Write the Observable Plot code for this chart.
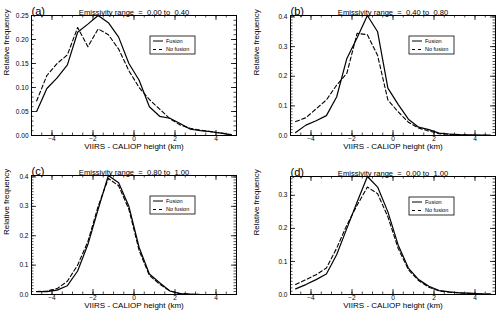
<!DOCTYPE html>
<html>
<head>
<meta charset="utf-8">
<script src="https://cdn.jsdelivr.net/npm/d3@7"></script>
<script src="https://cdn.jsdelivr.net/npm/@observablehq/plot@0.6"></script>
<style>
  html, body { margin: 0; padding: 0; background: white; }
  #grid { display: grid; grid-template-columns: 250px 250px; width: 500px; height: 314px; }
  #grid svg { display: block; }
</style>
</head>
<body>
<div id="grid"></div>
<script>
// ---- data ----
const xBins = [-4.75, -4.25, -3.75, -3.25, -2.75, -2.25, -1.75, -1.25, -0.75, -0.25,
               0.25, 0.75, 1.25, 1.75, 2.25, 2.75, 3.25, 3.75, 4.25, 4.75];

const fusionA   = [0.050, 0.098, 0.120, 0.147, 0.215, 0.232, 0.250, 0.235, 0.205, 0.150,
                   0.115, 0.060, 0.040, 0.036, 0.025, 0.013, 0.010, 0.008, 0.005, 0.001];
const noFusionA = [0.072, 0.125, 0.150, 0.168, 0.225, 0.185, 0.222, 0.210, 0.180, 0.135,
                   0.100, 0.075, 0.055, 0.035, 0.022, 0.015, 0.011, 0.008, 0.005, 0.002];

const fusionB   = [0.010, 0.035, 0.050, 0.067, 0.130, 0.260, 0.330, 0.405, 0.350, 0.160,
                   0.105, 0.055, 0.028, 0.020, 0.008, 0.005, 0.003, 0.002, 0.001, 0.001];
const noFusionB = [0.047, 0.060, 0.090, 0.120, 0.170, 0.210, 0.345, 0.340, 0.270, 0.120,
                   0.080, 0.045, 0.025, 0.015, 0.006, 0.004, 0.002, 0.001, 0.001, 0.000];

const fusionC   = [0.010, 0.010, 0.015, 0.030, 0.080, 0.170, 0.290, 0.405, 0.380, 0.300,
                   0.160, 0.070, 0.040, 0.012, 0.003, 0.001, 0.000, 0.000, 0.000, 0.000];
const noFusionC = [0.010, 0.012, 0.020, 0.045, 0.100, 0.180, 0.300, 0.395, 0.370, 0.290,
                   0.150, 0.065, 0.035, 0.012, 0.003, 0.001, 0.000, 0.000, 0.000, 0.000];

const fusionD   = [0.017, 0.030, 0.045, 0.062, 0.120, 0.200, 0.280, 0.357, 0.325, 0.250,
                   0.150, 0.080, 0.045, 0.025, 0.012, 0.008, 0.005, 0.004, 0.002, 0.001];
const noFusionD = [0.030, 0.045, 0.060, 0.080, 0.140, 0.210, 0.270, 0.325, 0.305, 0.235,
                   0.140, 0.075, 0.042, 0.022, 0.011, 0.007, 0.005, 0.003, 0.002, 0.001];

const panelLetters = ["(a)", "(b)", "(c)", "(d)"];
const panelTitles = ["Emissivity range  =  0.00 to  0.40", "Emissivity range  =  0.40 to  0.80",
                     "Emissivity range  =  0.80 to  1.00", "Emissivity range  =  0.00 to  1.00"];
const seriesNames = ["Fusion", "No fusion"];

const xMajorTicks = [-4, -2, 0, 2, 4];
const xMinorTicks = d3.range(-5, 5.001, 0.5);
const yTicksA = [0, 0.05, 0.10, 0.15, 0.20, 0.25];
const yTicksB = [0, 0.1, 0.2, 0.3, 0.4];
const yTicksD = [0, 0.1, 0.2, 0.3];
const yMinorStep = 0.01;

const xLabel = "VIIRS - CALIOP height (km)";
const yLabel = "Relative frequency";

// ---- layout ----
const panels = [
  {fusion: fusionA, noFusion: noFusionA, yTicks: yTicksA, fmt: ".2f", m: {top: 15, right: 14, bottom: 22, left: 31}},
  {fusion: fusionB, noFusion: noFusionB, yTicks: yTicksB, fmt: ".1f", m: {top: 15, right: 5, bottom: 22, left: 40}},
  {fusion: fusionC, noFusion: noFusionC, yTicks: yTicksB, fmt: ".1f", m: {top: 18, right: 14, bottom: 20, left: 31}},
  {fusion: fusionD, noFusion: noFusionD, yTicks: yTicksD, fmt: ".1f", m: {top: 19, right: 5, bottom: 20, left: 40}}
];

const W = 250, H = 157;
const FONT = "Liberation Sans";
const grid = document.getElementById("grid");

panels.forEach((p, i) => {
  const m = p.m;
  const iw = W - m.left - m.right, ih = H - m.top - m.bottom;
  const yMax = d3.max([...p.fusion, ...p.noFusion]);
  const yMinor = d3.range(0, yMax + 1e-9, yMinorStep);
  const rows = xBins.map((x, k) => ({x, f: p.fusion[k], n: p.noFusion[k]}));
  const maj = 5, mnr = 2.5;

  const chart = Plot.plot({
    width: W, height: H,
    marginTop: m.top, marginRight: m.right, marginBottom: m.bottom, marginLeft: m.left,
    style: {fontFamily: FONT, fontSize: "7px", background: "white", color: "black"},
    x: {domain: [-5, 5]},
    y: {domain: [0, yMax]},
    marks: [
      Plot.line(rows, {x: "x", y: "n", stroke: "black", strokeWidth: 1.1, strokeDasharray: "4,2.5"}),
      Plot.line(rows, {x: "x", y: "f", stroke: "black", strokeWidth: 1.2}),
      // inward ticks on all four sides
      Plot.tickX(xMajorTicks, {x: d => d, insetTop: ih - maj, stroke: "black", strokeWidth: 0.8}),
      Plot.tickX(xMajorTicks, {x: d => d, insetBottom: ih - maj, stroke: "black", strokeWidth: 0.8}),
      Plot.tickX(xMinorTicks, {x: d => d, insetTop: ih - mnr, stroke: "black", strokeWidth: 0.7}),
      Plot.tickX(xMinorTicks, {x: d => d, insetBottom: ih - mnr, stroke: "black", strokeWidth: 0.7}),
      Plot.tickY(p.yTicks, {y: d => d, insetRight: iw - maj, stroke: "black", strokeWidth: 0.8}),
      Plot.tickY(p.yTicks, {y: d => d, insetLeft: iw - maj, stroke: "black", strokeWidth: 0.8}),
      Plot.tickY(yMinor, {y: d => d, insetRight: iw - mnr, stroke: "black", strokeWidth: 0.7}),
      Plot.tickY(yMinor, {y: d => d, insetLeft: iw - mnr, stroke: "black", strokeWidth: 0.7}),
      Plot.frame({stroke: "black", strokeWidth: 1}),
      Plot.axisX(xMajorTicks, {tickSize: 0, tickPadding: 1, label: null, fontSize: 6.5}),
      Plot.axisY(p.yTicks, {tickSize: 0, tickPadding: 3, label: null, fontSize: 6.5, tickFormat: d3.format(p.fmt)}),
      Plot.text([xLabel], {frameAnchor: "bottom", dy: 13, fontSize: 8}),
      Plot.text([yLabel], {frameAnchor: "left", rotate: -90, dx: -m.left + 6, fontSize: 8}),
      Plot.text([panelTitles[i]], {frameAnchor: "top", dy: -6, fontSize: 7.6}),
      Plot.text([panelLetters[i]], {frameAnchor: "top-left", textAnchor: "start", dy: -8.5, dx: 0, fontSize: 11})
    ]
  });

  // legend box (frame-relative placement)
  const svg = d3.select(chart);
  const lx = m.left + Math.round(iw * 0.58), ly = m.top + 21;
  const g = svg.append("g").attr("font-family", FONT).attr("font-size", 5.5).attr("text-anchor", "start");
  g.append("rect").attr("x", lx).attr("y", ly).attr("width", 45).attr("height", 18)
    .attr("fill", "white").attr("stroke", "black").attr("stroke-width", 0.8);
  seriesNames.forEach((name, k) => {
    const yy = ly + 5 + k * 8.5;
    g.append("line").attr("x1", lx + 3).attr("x2", lx + 13).attr("y1", yy).attr("y2", yy)
      .attr("stroke", "black").attr("stroke-width", 1)
      .attr("stroke-dasharray", k === 1 ? "3,3" : null);
    g.append("text").attr("x", lx + 16).attr("y", yy).attr("dy", "0.35em")
      .attr("text-anchor", "start").text(name);
  });

  grid.appendChild(chart);
});
</script>
</body>
</html>
